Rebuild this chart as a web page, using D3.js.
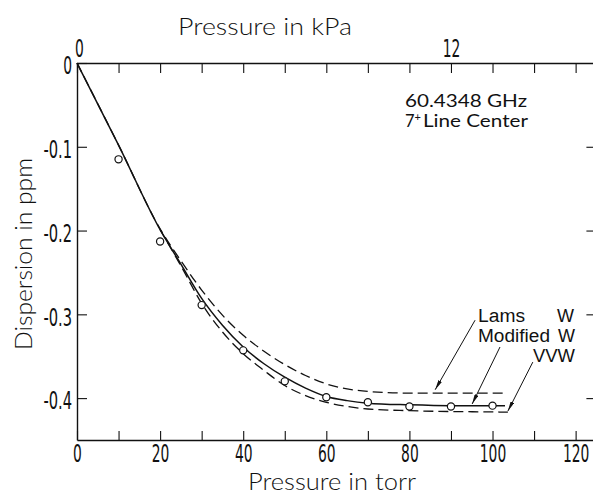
<!DOCTYPE html>
<html>
<head>
<meta charset="utf-8">
<script src="https://cdn.jsdelivr.net/npm/d3@7"></script>
<style>
  body { margin: 0; background: #fff; }
  svg { display: block; }
  text { fill: #111; }
</style>
</head>
<body>
<div id="chart"></div>
<script>
// dispersion vs pressure, 60.4348 GHz line

var svgWidth = 593;
var svgHeight = 499;

// axis ticks
var torrTicks = [0, 10, 20, 30, 40, 50, 60, 70, 80, 90, 100, 110, 120];
var torrLabels = [0, 20, 40, 60, 80, 100, 120];
var dispTicks = [0, -0.1, -0.2, -0.3, -0.4];
var kpaLabels = [0, 12];
var kpaPerTorr = 0.133322;

// measured points
var measTorr = [10, 20, 30, 40, 50, 60, 70, 80, 90, 100];
var measDisp = [-0.115, -0.213, -0.289, -0.343, -0.380, -0.399, -0.405, -0.410, -0.410, -0.409];

// Modified W (solid)
var modTorr = [0, 10, 20, 25, 30, 35, 40, 45, 50, 55, 60, 65, 70, 80, 90, 100, 103];
var modDisp = [0, -0.098, -0.199, -0.240, -0.281, -0.313, -0.339, -0.359, -0.375, -0.388, -0.398, -0.403, -0.406, -0.408, -0.409, -0.409, -0.409];

// Lams W (upper dashed)
var lamsTorr = [0, 10, 20, 25, 30, 35, 40, 45, 50, 55, 60, 65, 70, 80, 90, 100, 103];
var lamsDisp = [0, -0.098, -0.198, -0.236, -0.271, -0.301, -0.325, -0.344, -0.360, -0.373, -0.383, -0.389, -0.392, -0.394, -0.394, -0.394, -0.394];

// VVW (lower dashed)
var vvwTorr = [20, 25, 30, 35, 40, 45, 50, 55, 60, 65, 70, 80, 90, 100, 103.7];
var vvwDisp = [-0.199, -0.242, -0.287, -0.321, -0.347, -0.367, -0.385, -0.397, -0.405, -0.410, -0.413, -0.415, -0.416, -0.4165, -0.4168];

// arrow annotations [tailTorr, tailDisp, tipTorr, tipDisp]
var arrowLams = [95.8, -0.307, 86.2, -0.390];
var arrowMod = [101.8, -0.339, 95.1, -0.407];
var arrowVvw = [109.7, -0.357, 103.7, -0.4155];

var svg = d3.select("#chart").append("svg")
  .attr("width", svgWidth)
  .attr("height", svgHeight);

var xScale = d3.scaleLinear().domain([0, 125]).range([77, 596.4]);
var kpaScale = d3.scaleLinear().domain([0, 125 * kpaPerTorr]).range([77, 596.4]);
var yScale = d3.scaleLinear().domain([0, -0.45]).range([63, 440]);

var digitFont = "'Liberation Sans Narrow', 'DejaVu Sans Condensed', sans-serif";
var titleFont = "Lato, 'Liberation Sans', sans-serif";
var textFont = "'Liberation Sans', Arial, sans-serif";
var squash = 0.8;

function narrowWidth(s) {
  var w = 0;
  for (var i = 0; i < s.length; i++) {
    var c = s[i];
    w += (c == ".") ? 4 : (c == "-") ? 7 : 8.8;
  }
  return w;
}
// condensed digits: squeeze horizontally, keep height
function squeeze(sel) {
  sel.selectAll(".tick text")
    .attr("font-family", digitFont)
    .attr("font-size", "24px")
    .attr("x", function() { return (+d3.select(this).attr("x") || 0) / squash; })
    .attr("transform", "scale(" + squash + ",1)")
    .attr("textLength", function() { return narrowWidth(this.textContent) / squash; })
    .attr("lengthAdjust", "spacingAndGlyphs");
}
function styleAxis(g) {
  g.select(".domain").attr("stroke", "#111").attr("stroke-width", 1.4);
  g.selectAll(".tick line").attr("stroke", "#111").attr("stroke-width", 1.1);
}

// bottom axis (torr)
var bottomAxis = d3.axisBottom(xScale)
  .tickValues(torrTicks)
  .tickSizeInner(-9).tickSizeOuter(0).tickPadding(5)
  .tickFormat(function(d) { return torrLabels.indexOf(d) >= 0 ? d : ""; });
var gB = svg.append("g").attr("transform", "translate(0," + yScale(-0.45) + ")").call(bottomAxis);
styleAxis(gB); squeeze(gB);
gB.selectAll(".tick text").attr("dy", "0.71em");

// top axis (kPa), ticks line up with the torr ticks
var topAxis = d3.axisTop(kpaScale)
  .tickValues(torrTicks.map(function(t) { return t * kpaPerTorr; }))
  .tickSizeInner(-10).tickSizeOuter(0).tickPadding(6)
  .tickFormat(function(d) {
    var r = Math.round(d);
    return (Math.abs(d - r) < 0.05 && kpaLabels.indexOf(r) >= 0) ? r : "";
  });
var gT = svg.append("g").attr("transform", "translate(0," + yScale(0) + ")").call(topAxis);
styleAxis(gT); squeeze(gT);
gT.selectAll(".tick text").filter(function(d) { return d == 0; }).attr("dx", 2.5);

// left axis
var leftAxis = d3.axisLeft(yScale)
  .tickValues(dispTicks)
  .tickSizeInner(-10).tickSizeOuter(0).tickPadding(5)
  .tickFormat(function(d) { return d == 0 ? "0" : d.toFixed(1); });
var gL = svg.append("g").attr("transform", "translate(" + xScale(0) + ",0)").call(leftAxis);
styleAxis(gL); squeeze(gL);
gL.selectAll(".tick text").attr("dy", "0.45em");

// right axis, just past the picture edge
var rightAxis = d3.axisLeft(yScale)
  .tickValues(dispTicks.slice(1))
  .tickSizeInner(10).tickSizeOuter(0)
  .tickFormat("");
var gR = svg.append("g").attr("transform", "translate(" + xScale(125) + ",0)").call(rightAxis);
styleAxis(gR);

// curves
var line = d3.line()
  .x(function(d) { return xScale(d[0]); })
  .y(function(d) { return yScale(d[1]); })
  .curve(d3.curveMonotoneX);

function pairs(a, b) { return a.map(function(v, i) { return [v, b[i]]; }); }

svg.append("path")
  .attr("d", line(pairs(modTorr, modDisp)))
  .attr("fill", "none").attr("stroke", "#111").attr("stroke-width", 1.5);

svg.append("path")
  .attr("d", line(pairs(lamsTorr, lamsDisp)))
  .attr("fill", "none").attr("stroke", "#111").attr("stroke-width", 1.3)
  .attr("stroke-dasharray", "10,5");

svg.append("path")
  .attr("d", line(pairs(vvwTorr, vvwDisp)))
  .attr("fill", "none").attr("stroke", "#111").attr("stroke-width", 1.3)
  .attr("stroke-dasharray", "10,5");

// measured circles
svg.append("g")
  .selectAll("circle")
  .data(pairs(measTorr, measDisp))
  .enter()
  .append("circle")
  .attr("cx", function(d) { return xScale(d[0]); })
  .attr("cy", function(d) { return yScale(d[1]); })
  .attr("r", 3.6)
  .attr("fill", "#fff")
  .attr("stroke", "#111")
  .attr("stroke-width", 1.2);

// arrows
svg.append("defs").append("marker")
  .attr("id", "head")
  .attr("viewBox", "0 0 10 4")
  .attr("refX", 10).attr("refY", 2)
  .attr("markerWidth", 10).attr("markerHeight", 4)
  .attr("markerUnits", "userSpaceOnUse")
  .attr("orient", "auto")
  .append("path").attr("d", "M0,0 L10,2 L0,4 Z").attr("fill", "#111");

[arrowLams, arrowMod, arrowVvw].forEach(function(a) {
  svg.append("line")
    .attr("x1", xScale(a[0])).attr("y1", yScale(a[1]))
    .attr("x2", xScale(a[2])).attr("y2", yScale(a[3]))
    .attr("stroke", "#111").attr("stroke-width", 1)
    .attr("marker-end", "url(#head)");
});

// text helper
function label(txt, x, y, anchor, size, len, font, weight) {
  var t = svg.append("text")
    .attr("x", x).attr("y", y)
    .attr("text-anchor", anchor)
    .attr("font-family", font || textFont)
    .attr("font-weight", weight || 400)
    .attr("font-size", size + "px")
    .text(txt);
  if (len) t.attr("textLength", len).attr("lengthAdjust", "spacingAndGlyphs");
  return t;
}

label("Lams", 478, 322, "start", 18, 47);
label("W", 574, 322, "end", 18);
label("Modified", 478, 342, "start", 18, 72);
label("W", 575, 342, "end", 18);
label("VVW", 575, 362, "end", 18, 42);

label("60.4348 GHz", 405, 107, "start", 16.5, 122, titleFont);
var sub = svg.append("text")
  .attr("x", 405).attr("y", 127)
  .attr("font-family", titleFont)
  .attr("font-size", "16.5px");
sub.append("tspan").text("7");
sub.append("tspan").attr("font-size", "11px").attr("dy", "-6").text("+");
sub.append("tspan").attr("dy", "6").attr("dx", "2").text("Line Center")
  .attr("textLength", 105).attr("lengthAdjust", "spacingAndGlyphs");

// axis titles
label("Pressure in  kPa", 265, 35, "middle", 23, 174, titleFont, 300);
label("Pressure in  torr", 332, 490, "middle", 23, 168, titleFont, 300);

svg.append("text")
  .attr("transform", "translate(32,254) rotate(-90)")
  .attr("text-anchor", "middle")
  .attr("font-family", titleFont)
  .attr("font-weight", 300)
  .attr("font-size", "23px")
  .attr("textLength", 192)
  .attr("lengthAdjust", "spacingAndGlyphs")
  .text("Dispersion in ppm");
</script>
</body>
</html>
